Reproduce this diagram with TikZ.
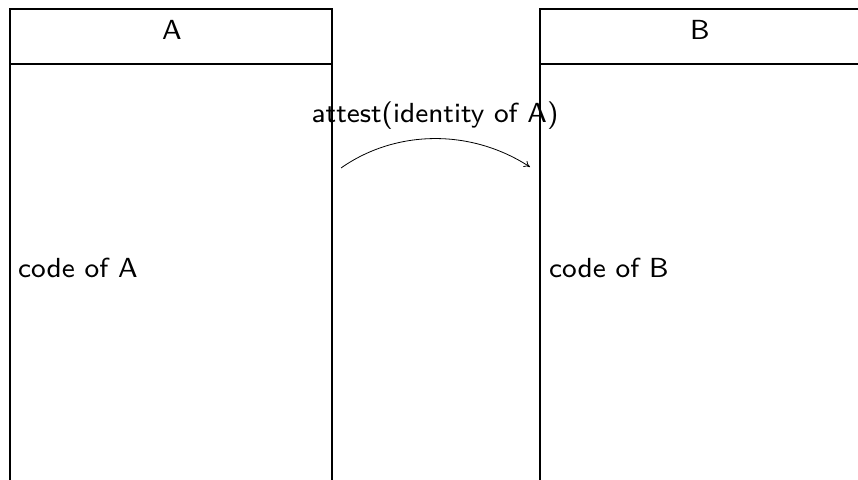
\documentclass[tikz,border=0pt]{standalone}
\usetikzlibrary{arrows.meta}
% small optical size of the sans face, enlarged
\newcommand{\bigsans}[1]{\scalebox{3.45}{\sffamily\fontsize{8}{10}\selectfont #1}}
\begin{document}
\begin{tikzpicture}[x=1pt,y=-1pt,
  lane/.style={draw,line width=1.5pt,rectangle,inner sep=0pt,anchor=north west},
  divider/.style={line width=2pt},
  title/.style={inner sep=0pt},
  body/.style={inner sep=0pt,anchor=west},
  msg/.style={-{To[length=6pt,width=7pt]},line width=0.8pt}]
\useasboundingbox (0,0) rectangle (858,479);
\clip (0,0) rectangle (858,479);
% lifelines, running past the lower (and right) edge
\node[lane,minimum width=322pt,minimum height=540pt] (boxA) at (9,8) {};
\node[lane,minimum width=360pt,minimum height=540pt] (boxB) at (539,8) {};
\coordinate (hA1) at (9,64); \coordinate (hA2) at (331,64);
\coordinate (hB1) at (539,64); \coordinate (hB2) at (899,64);
\draw[divider] (hA1) -- (hA2);
\draw[divider] (hB1) -- (hB2);
\node[title] (tA) at (172,30) {\bigsans{A}};
\node[title] (tB) at (700,30) {\bigsans{B}};
\node[body] (cA) at (18,268) {\bigsans{code of A}};
\node[body] (cB) at (549,268) {\bigsans{code of B}};
% message
\coordinate (m1) at (341,168);
\coordinate (m2) at (530,167);
\draw[msg] (m1) .. controls (395,130) and (470,128) .. (m2);
\node[title] (lab) at (435,116) {\bigsans{attest(identity of A)}};
\end{tikzpicture}
\end{document}
